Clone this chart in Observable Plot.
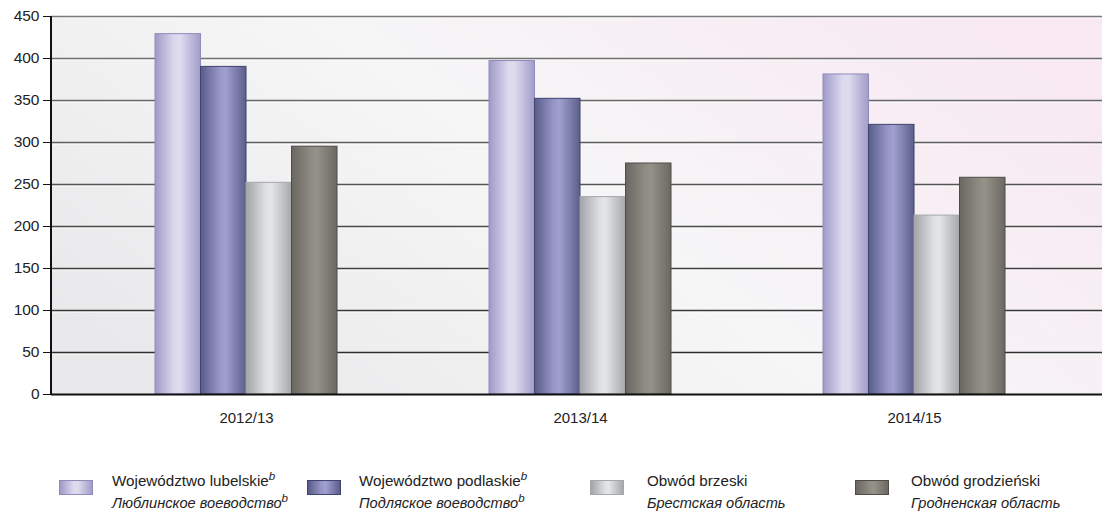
<!DOCTYPE html>
<html><head><meta charset="utf-8">
<script src="https://cdn.jsdelivr.net/npm/d3@7"></script>
<script src="https://cdn.jsdelivr.net/npm/@observablehq/plot@0.6"></script>
<style>
body{margin:0;background:#fff;font-family:"Liberation Sans",Arial,sans-serif;}
#chart{width:1102px;height:440px;}
#legend{position:relative;width:1102px;height:71px;font-size:15.2px;color:#222;}
.sw{position:absolute;top:40px;width:34px;height:15px;box-sizing:border-box;border:1px solid;}
.tx{position:absolute;top:30px;line-height:22px;white-space:nowrap;}
.tx .ru{font-style:italic;font-size:14.6px;}
.tx sup{font-style:italic;font-size:11.5px;vertical-align:6px;line-height:0;}
</style></head><body>
<div id="chart"></div>
<div id="legend"></div>
<script>
// ---- data ----
const years = ["2012/13", "2013/14", "2014/15"];
const namesPL = ["Województwo lubelskie", "Województwo podlaskie", "Obwód brzeski", "Obwód grodzieński"];
const namesRU = ["Люблинское воеводство", "Подляское воеводство", "Брестская область", "Гродненская область"];
const footnote = [true, true, false, false];
const lubelskie = [429, 397, 381];
const podlaskie = [390, 352, 321];
const brzeski = [252, 235, 213];
const grodzienski = [295, 275, 258];
const yTicks = [0, 50, 100, 150, 200, 250, 300, 350, 400, 450];

// ---- styles ----
const seriesValues = [lubelskie, podlaskie, brzeski, grodzienski];
const gradStops = [
  ["#9e9ac7", "#dcd8ed", "#e0dcef", "#a09cc9"],
  ["#585c87", "#9896c8", "#a19fd0", "#5b5f89"],
  ["#a2a4a8", "#dcdee0", "#e4e6e8", "#a6a8ab"],
  ["#6a6762", "#8d8b82", "#959388", "#6b6863"]
];
const strokes = ["#8f8bbd", "#3f436f", "#a5a7aa", "#4e4c47"];
const barW = 45.5;

const defsMark = () => {
  const defs = d3.create("svg:defs");
  gradStops.forEach((st, i) => {
    const g = defs.append("linearGradient").attr("id", "g" + i)
      .attr("x1", 0).attr("y1", 0).attr("x2", 1).attr("y2", 0);
    [0, 0.42, 0.55, 1].forEach((o, k) => g.append("stop").attr("offset", o).attr("stop-color", st[k]));
  });
  const bg = defs.append("linearGradient").attr("id", "bg")
    .attr("x1", 0).attr("y1", 0.75).attr("x2", 1).attr("y2", 0.25);
  [[0, "#e9e9eb"], [0.5, "#f6f6f7"], [1, "#f8e9f2"]].forEach(([o, c]) =>
    bg.append("stop").attr("offset", o).attr("stop-color", c));
  return defs.node();
};

const leftAxisLine = (index, scales, values, dim) => {
  const l = d3.create("svg:line")
    .attr("x1", dim.marginLeft).attr("x2", dim.marginLeft)
    .attr("y1", dim.marginTop).attr("y2", dim.height - dim.marginBottom + 1)
    .attr("stroke", "#111").attr("stroke-width", 2);
  return l.node();
};

const gridColor = d3.interpolateRgb("#262626", "#7a7a7a");

const barMarks = seriesValues.map((vals, i) =>
  Plot.barY(years.map((y, j) => ({year: y, value: vals[j]})), {
    x: "year", y: "value",
    fill: `url(#g${i})`, stroke: strokes[i], strokeWidth: 1,
    insetLeft: 76 + i * barW, insetRight: 334 - 76 - (i + 1) * barW
  })
);

const chart = Plot.plot({
  width: 1102, height: 440,
  marginLeft: 51, marginRight: 0, marginTop: 16, marginBottom: 46,
  style: {fontSize: "15.5px", fontFamily: "'Liberation Sans', Arial, sans-serif", color: "#222", background: "transparent"},
  x: {domain: years, padding: 0, insetLeft: 28, insetRight: 21, label: null},
  y: {domain: [0, 450], label: null},
  color: {type: "identity"},
  marks: [
    defsMark,
    Plot.frame({fill: "url(#bg)", stroke: "none"}),
    Plot.ruleY(yTicks.slice(1), {stroke: "#ffffff", strokeOpacity: 0.9, dy: 1.5, strokeWidth: 1}),
    Plot.ruleY(yTicks.slice(1), {stroke: d => gridColor(d / 450), strokeWidth: 1.3}),
    ...barMarks,
    Plot.ruleY([0], {stroke: "#111", strokeWidth: 2}),
    leftAxisLine,
    Plot.axisY({ticks: yTicks, tickSize: 8, tickPadding: 4, tickFormat: d3.format("d"), stroke: "#111"}),
    Plot.axisX({tickSize: 0, tickPadding: 18, fontSize: "15px"})
  ]
});
document.getElementById("chart").appendChild(chart);

// ---- legend ----
const legendPos = [[59, 112], [307, 359], [590, 647], [855, 911]];
const legend = document.getElementById("legend");
namesPL.forEach((n, i) => {
  const [sx, tx] = legendPos[i];
  const sw = document.createElement("div");
  sw.className = "sw";
  sw.style.left = sx + "px";
  const st = gradStops[i];
  sw.style.background = `linear-gradient(to right, ${st[0]} 0%, ${st[1]} 42%, ${st[2]} 55%, ${st[3]} 100%)`;
  sw.style.borderColor = strokes[i];
  legend.appendChild(sw);
  const t = document.createElement("div");
  t.className = "tx";
  t.style.left = tx + "px";
  const sup = footnote[i] ? "<sup>b</sup>" : "";
  t.innerHTML = `<div>${n}${sup}</div><div class="ru">${namesRU[i]}${sup}</div>`;
  legend.appendChild(t);
});
</script>
</body></html>
